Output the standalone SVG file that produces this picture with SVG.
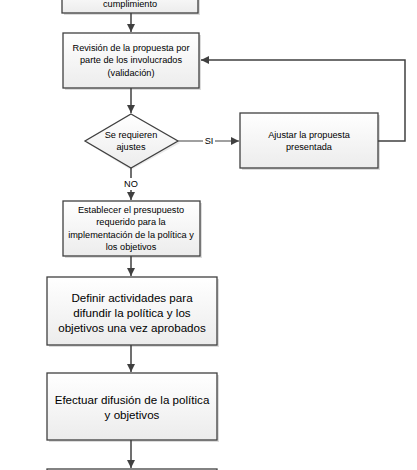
<svg xmlns="http://www.w3.org/2000/svg" width="417" height="470" viewBox="0 0 417 470">
<style>
.box{fill:url(#g);stroke:#404040;stroke-width:1.3}
.sh{fill:#dcdcdc}
.t{font-family:"Liberation Sans",Arial,sans-serif;font-size:9.2px;fill:#000;text-anchor:middle;dominant-baseline:central}
.tl{font-family:"Liberation Sans",Arial,sans-serif;font-size:11.6px;fill:#000;text-anchor:middle;dominant-baseline:central}
.c{fill:none;stroke:#404040;stroke-width:1.5}
.cg{fill:none;stroke:#808080;stroke-width:1.5}
</style>
<defs>
<linearGradient id="g" x1="0" y1="0" x2="0" y2="1">
<stop offset="0" stop-color="#ffffff"/>
<stop offset="1" stop-color="#ececec"/>
</linearGradient>
<marker id="a" viewBox="0 0 10 10" refX="10" refY="5" markerWidth="5.5" markerHeight="5.5" orient="auto" markerUnits="strokeWidth">
<path d="M0,0 L10,5 L0,10 z" fill="#404040"/>
</marker>
</defs>
<rect width="417" height="470" fill="#fff"/>
<g id="n1">
<rect class="sh" x="64" y="-10" width="136" height="25"/>
<rect class="box" x="62" y="-12" width="136" height="25"/>
<text class="t" x="130" y="4">cumplimiento</text>
</g>
<g id="n2">
<rect class="sh" x="65" y="35" width="136" height="55"/>
<rect class="box" x="63" y="33" width="136" height="55"/>
<text class="t" x="131" y="48">Revisión de la propuesta por</text>
<text class="t" x="131" y="60">parte de los involucrados</text>
<text class="t" x="131" y="73">(validación)</text>
</g>
<g id="n3">
<path class="sh" d="M131,116 L180,143 L131,170 L87,143 z" opacity="0.6"/>
<path class="box" d="M131,114 L178,141 L131,168 L85,141 z"/>
<text class="t" x="131" y="135">Se requieren</text>
<text class="t" x="131" y="147">ajustes</text>
</g>
<g id="n4">
<rect class="sh" x="242" y="115" width="138" height="55"/>
<rect class="box" x="240" y="113" width="138" height="55"/>
<text class="t" x="309" y="135">Ajustar la propuesta</text>
<text class="t" x="309" y="147">presentada</text>
</g>
<g id="n5">
<rect class="sh" x="65" y="203" width="137" height="55"/>
<rect class="box" x="63" y="201" width="137" height="55"/>
<text class="t" x="131" y="210">Establecer el presupuesto</text>
<text class="t" x="131" y="222">requerido para la</text>
<text class="t" x="131" y="235">implementación de la política y</text>
<text class="t" x="131" y="247">los objetivos</text>
</g>
<g id="n6">
<rect class="sh" x="49" y="279" width="170" height="68"/>
<rect class="box" x="47" y="277" width="170" height="68"/>
<text class="tl" x="132" y="297">Definir actividades para</text>
<text class="tl" x="132" y="312">difundir la política y los</text>
<text class="tl" x="132" y="327">objetivos una vez aprobados</text>
</g>
<g id="n7">
<rect class="sh" x="49" y="375" width="170" height="67"/>
<rect class="box" x="47" y="373" width="170" height="67"/>
<text class="tl" x="132" y="399">Efectuar difusión de la política</text>
<text class="tl" x="132" y="414">y objetivos</text>
</g>
<g id="n8">
<rect class="sh" x="49" y="471" width="170" height="40"/>
<rect class="box" x="47" y="469" width="170" height="40"/>
</g>
<g id="connectors">
<line class="c" x1="131" y1="13" x2="131" y2="32" marker-end="url(#a)"/>
<line class="c" x1="131" y1="88" x2="131" y2="113" marker-end="url(#a)"/>
<line class="cg" x1="178" y1="141" x2="203" y2="141"/>
<line class="cg" x1="215" y1="141" x2="239" y2="141" marker-end="url(#a)"/>
<text class="t" x="209" y="141">SI</text>
<polyline class="c" points="378,141 405,141 405,60 201,60" marker-end="url(#a)"/>
<line class="c" x1="131" y1="168" x2="131" y2="178"/>
<text class="t" x="131" y="184">NO</text>
<line class="c" x1="131" y1="190" x2="131" y2="200" marker-end="url(#a)"/>
<line class="c" x1="131" y1="256" x2="131" y2="276" marker-end="url(#a)"/>
<line class="c" x1="131" y1="345" x2="131" y2="372" marker-end="url(#a)"/>
<line class="c" x1="131" y1="440" x2="131" y2="468" marker-end="url(#a)"/>
</g>
</svg>
